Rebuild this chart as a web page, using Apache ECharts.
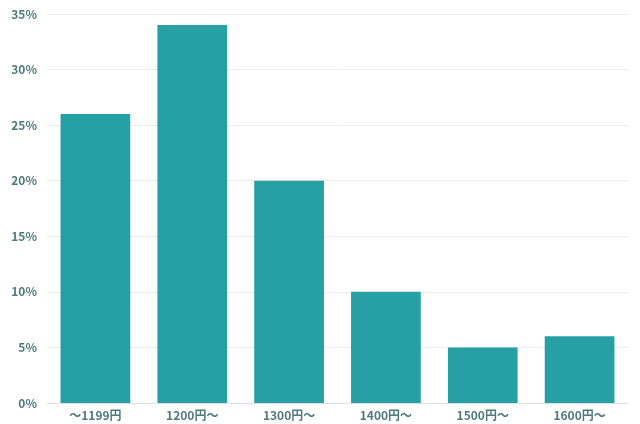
<!DOCTYPE html><html><head><meta charset="utf-8"><script src="https://cdn.jsdelivr.net/npm/echarts@6/dist/echarts.min.js"></script></head><body style="margin:0"><div id="c" style="width:640px;height:424px"></div><script>
const categories=["〜1199円","1200円〜","1300円〜","1400円〜","1500円〜","1600円〜"];
const values=[26,34,20,10,5,6];
const c=echarts.init(document.getElementById('c'));
const txt={color:'#4f7a7c',fontWeight:'bold',fontSize:12,fontFamily:'Noto Sans CJK JP'};
c.setOption({animation:false,grid:{left:47,right:12,top:14,bottom:21},
xAxis:{type:'category',data:categories,axisTick:{show:false},axisLine:{lineStyle:{color:'#e0e0e0'}},axisLabel:Object.assign({margin:6},txt)},
yAxis:{type:'value',min:0,max:35,interval:5,axisLabel:Object.assign({formatter:'{value}%',margin:10},txt),splitLine:{lineStyle:{color:'#ebebeb'}}},
series:[{type:'bar',data:values,barWidth:'72%',itemStyle:{color:'#26a0a5'}}]});
</script></body></html>
